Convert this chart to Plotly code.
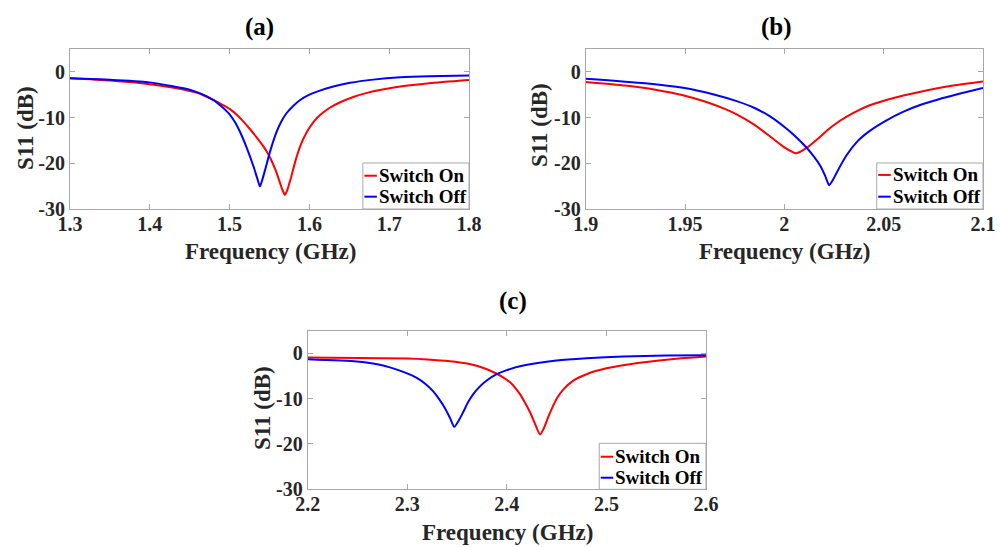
import plotly.graph_objects as go

# ---- S11 data (GHz, dB) ----
f_a_on = [1.30, 1.35, 1.40, 1.43, 1.45, 1.463, 1.48, 1.49, 1.50, 1.509, 1.5174, 1.5254, 1.5334,
          1.5394, 1.5454, 1.5514, 1.5574, 1.5634, 1.5664, 1.5694, 1.572, 1.5745, 1.577, 1.580,
          1.584, 1.590, 1.5966, 1.605, 1.613, 1.625, 1.638, 1.655, 1.672, 1.69, 1.714, 1.75, 1.80]
s_a_on = [-1.4, -1.9, -2.7, -3.5, -4.2, -4.8, -6.2, -7.1, -8.1, -9.4, -10.9, -12.5, -14.2,
          -15.6, -17.1, -19.0, -21.4, -24.4, -25.9, -26.9, -26.0, -24.6, -23.1, -21.1,
          -18.6, -15.6, -13.2, -11.0, -9.5, -7.9, -6.7, -5.5, -4.6, -3.9, -3.2, -2.5, -1.8]
f_a_off = [1.30, 1.35, 1.40, 1.43, 1.45, 1.463, 1.48, 1.49, 1.5005, 1.507, 1.513, 1.521, 1.53,
           1.535, 1.538, 1.541, 1.5444, 1.5506, 1.559, 1.565, 1.5715, 1.58, 1.588, 1.60, 1.613,
           1.63, 1.651, 1.68, 1.714, 1.75, 1.80]
s_a_off = [-1.4, -1.7, -2.3, -3.2, -3.9, -4.7, -6.2, -7.6, -9.4, -11.1, -13.1, -16.4, -20.7,
           -23.5, -25.1, -23.6, -21.5, -17.5, -13.1, -10.8, -9.0, -7.4, -6.2, -5.0, -4.1,
           -3.2, -2.4, -1.7, -1.2, -0.95, -0.8]

f_b_on = [1.90, 1.92, 1.935, 1.949, 1.96, 1.97, 1.976, 1.985, 1.993, 2.000, 2.006, 2.011, 2.018,
          2.023, 2.028, 2.035, 2.043, 2.055, 2.068, 2.085, 2.10]
s_b_on = [-2.2, -3.0, -3.9, -5.1, -6.5, -8.1, -9.3, -11.6, -14.2, -16.5, -17.8, -16.7, -14.2,
          -12.3, -10.7, -8.9, -7.3, -5.7, -4.4, -3.0, -2.1]
f_b_off = [1.90, 1.93, 1.949, 1.965, 1.976, 1.985, 1.993, 2.001, 2.006, 2.011, 2.015, 2.018,
           2.0205, 2.0226, 2.0245, 2.0264, 2.0314, 2.037, 2.043, 2.051, 2.060, 2.068, 2.077,
           2.088, 2.10]
s_b_off = [-1.5, -2.5, -3.5, -5.0, -6.4, -7.9, -9.8, -12.4, -14.3, -16.5, -18.6, -20.5,
           -22.7, -24.8, -23.6, -22.0, -18.2, -15.1, -12.9, -10.7, -8.7, -7.3, -6.1,
           -4.8, -3.5]

f_c_on = [2.20, 2.25, 2.30, 2.32, 2.343, 2.36, 2.3697, 2.38, 2.3898, 2.397, 2.4032, 2.408,
          2.4132, 2.418, 2.4233, 2.428, 2.4333, 2.437, 2.4416, 2.446, 2.45, 2.457, 2.4667,
          2.48, 2.50, 2.525, 2.5505, 2.575, 2.60]
s_c_on = [-0.9, -1.0, -1.15, -1.35, -1.75, -2.25, -2.75, -3.5, -4.5, -5.4, -6.4, -7.5,
          -9.0, -10.8, -13.0, -15.4, -17.9, -16.6, -14.0, -11.8, -10.0, -7.9, -6.0,
          -4.6, -3.3, -2.35, -1.65, -1.1, -0.7]
f_c_off = [2.20, 2.2492, 2.27, 2.2826, 2.296, 2.3095, 2.318, 2.3261, 2.332, 2.3379, 2.343,
           2.3472, 2.352, 2.3563, 2.361, 2.3663, 2.3725, 2.3798, 2.3898, 2.40, 2.4165, 2.45,
           2.48, 2.517, 2.56, 2.60]
s_c_off = [-1.3, -1.8, -2.4, -3.1, -4.1, -5.4, -6.7, -8.4, -10.1, -12.1, -14.3,
           -16.2, -14.7, -12.9, -10.8, -9.0, -7.4, -6.0, -4.6, -3.7, -2.7, -1.6,
           -1.1, -0.7, -0.5, -0.4]

series_names = ["Switch On", "Switch Off"]
panel_titles = ["(a)", "(b)", "(c)"]
x_ticks_a = [1.3, 1.4, 1.5, 1.6, 1.7, 1.8]
x_ticks_b = [1.9, 1.95, 2.0, 2.05, 2.1]
x_ticks_b_text = ["1.9", "1.95", "2", "2.05", "2.1"]
x_ticks_c = [2.2, 2.3, 2.4, 2.5, 2.6]
y_ticks = [0, -10, -20, -30]
y_ticks_text = ["0", "-10", "-20", "-30"]
x_label = "Frequency (GHz)"
y_label = "S11 (dB)"

RED = "#ff0000"
BLUE = "#0000ff"
FRAME = "#a8a8a8"
TXT = "#262626"
FONT = '"Liberation Serif", "Times New Roman", Times, serif'

fig = go.Figure()

panels = [
    ("x", "y", f_a_on, s_a_on, f_a_off, s_a_off),
    ("x2", "y2", f_b_on, s_b_on, f_b_off, s_b_off),
    ("x3", "y3", f_c_on, s_c_on, f_c_off, s_c_off),
]
for xa, ya, fon, son, foff, soff in panels:
    fig.add_trace(go.Scatter(x=fon, y=son, mode="lines", name=series_names[0], xaxis=xa, yaxis=ya,
                             line=dict(color=RED, width=2, shape="spline", smoothing=0.6),
                             showlegend=False))
    fig.add_trace(go.Scatter(x=foff, y=soff, mode="lines", name=series_names[1], xaxis=xa, yaxis=ya,
                             line=dict(color=BLUE, width=2, shape="spline", smoothing=0.6),
                             showlegend=False))

W, H = 1000, 547
# plot-area boxes in pixels: left, right, top, bottom
boxes = [(70, 469, 49, 209), (585.7, 983, 49, 209), (307.7, 706, 330.7, 489.3)]


def dom(b):
    l, r, t, bt = b
    return [l / W, r / W], [1 - bt / H, 1 - t / H]


tick_font = dict(family=FONT, size=20, color=TXT, weight="bold")
label_font = dict(family=FONT, size=23, color=TXT, weight="bold")

axis_common = dict(showgrid=False, zeroline=False, showline=True, linecolor=FRAME, linewidth=1,
                   mirror="ticks", ticks="inside", ticklen=5, tickcolor=FRAME, tickwidth=1,
                   tickfont=tick_font, automargin=False)

x_ranges = [[1.3, 1.8], [1.9, 2.1], [2.2, 2.6]]
x_tickvals = [x_ticks_a, x_ticks_b, x_ticks_c]
x_ticktext = [[f"{v:g}" for v in x_ticks_a], x_ticks_b_text, [f"{v:g}" for v in x_ticks_c]]

layout = {}
for i, b in enumerate(boxes):
    xd, yd = dom(b)
    suf = "" if i == 0 else str(i + 1)
    layout["xaxis" + suf] = dict(axis_common, domain=xd, range=x_ranges[i], anchor="y" + suf,
                                 tickvals=x_tickvals[i], ticktext=x_ticktext[i],
                                 ticklabelstandoff=-3)
    layout["yaxis" + suf] = dict(axis_common, domain=yd, range=[-30, 5], anchor="x" + suf,
                                 tickvals=y_ticks, ticktext=y_ticks_text)

fig.update_layout(**layout)

# axis labels, placed beside each panel
xlab_pos = [(270, 251), (784, 251), (507, 532)]
ylab_pos = [(25, 128), (539, 125), (262, 408)]
for (xx, xy), (yx, yy) in zip(xlab_pos, ylab_pos):
    fig.add_annotation(text=x_label, x=xx / W, y=1 - xy / H, xref="paper", yref="paper",
                       showarrow=False, xanchor="center", yanchor="middle", font=label_font)
    fig.add_annotation(text=y_label, x=yx / W, y=1 - yy / H, xref="paper", yref="paper",
                       showarrow=False, xanchor="center", yanchor="middle", textangle=-90,
                       font=label_font)

# panel titles
title_pos = [(259, 27), (776, 27), (513, 301)]
for t, (px, py) in zip(panel_titles, title_pos):
    fig.add_annotation(text=t, x=px / W, y=1 - py / H, xref="paper", yref="paper",
                       showarrow=False, xanchor="center", yanchor="middle",
                       font=dict(family=FONT, size=25, color="#000000", weight="bold"))

# legend boxes drawn in the lower-right corner of each panel
leg_font = dict(family=FONT, size=19, color="#000000", weight="bold")
leg_geo = [
    # left edge (fraction of width), top (fraction of height), row centres
    (0.734, 0.2875, (0.208, 0.077)),
    (0.7325, 0.2875, (0.213, 0.077)),
    (0.732, 0.29, (0.2055, 0.073)),
]
for i, (x0, top, rows) in enumerate(leg_geo):
    suf = "" if i == 0 else str(i + 1)
    xr, yr = f"x{suf} domain", f"y{suf} domain"
    fig.add_shape(type="rect", xref=xr, yref=yr, x0=x0, x1=1, y0=0, y1=top,
                  line=dict(color=FRAME, width=1), fillcolor="white", layer="above")
    wpx = boxes[i][1] - boxes[i][0]
    for name, col, ry in zip(series_names, (RED, BLUE), rows):
        fig.add_shape(type="line", xref=xr, yref=yr, x0=x0 + 1.5 / wpx, x1=x0 + 14 / wpx,
                      y0=ry, y1=ry, line=dict(color=col, width=2), layer="above")
        fig.add_annotation(text=name, xref=xr, yref=yr, x=x0 + 14 / wpx, y=ry,
                           xanchor="left", yanchor="middle", showarrow=False, font=leg_font)

fig.update_layout(width=W, height=H, margin=dict(l=0, r=0, t=0, b=0),
                  paper_bgcolor="white", plot_bgcolor="white", showlegend=False)

fig.write_html("out.html")
